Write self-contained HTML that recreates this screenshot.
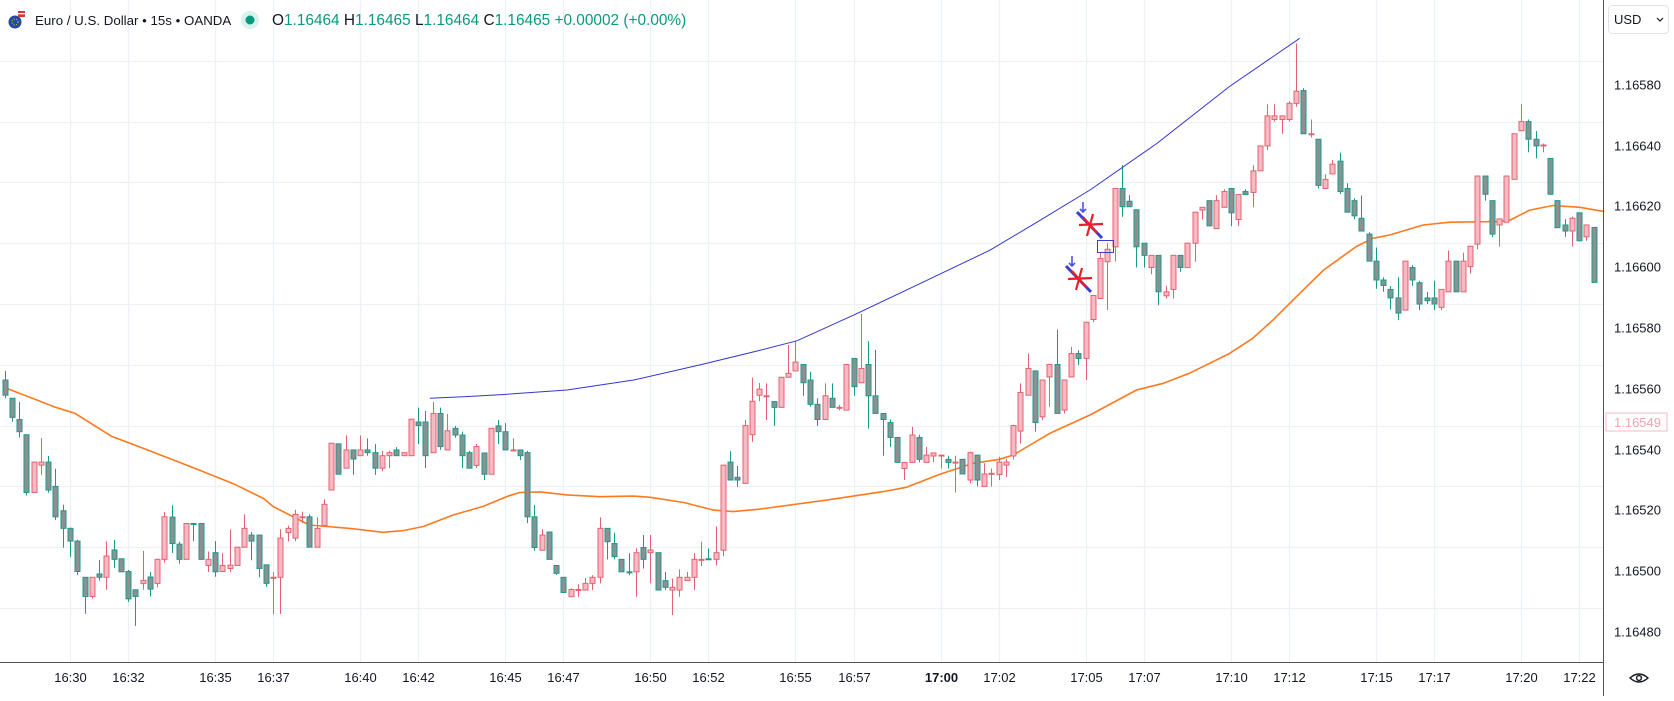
<!DOCTYPE html>
<html><head><meta charset="utf-8">
<style>
html,body{margin:0;padding:0;background:#fff;}
body{width:1674px;height:696px;overflow:hidden;font-family:"Liberation Sans",sans-serif;}
svg text{font-family:"Liberation Sans",sans-serif;}
</style></head>
<body>
<svg id="chart" width="1674" height="696" viewBox="0 0 1674 696" xmlns="http://www.w3.org/2000/svg">
<rect x="0" y="0" width="1674" height="696" fill="#ffffff"/>
<g id="grid"></g>
<g id="ma"></g>
<g id="candles"></g>
<g id="drawings"></g>
<g id="axes"></g>
<g>
  <g>
    <circle cx="15" cy="22" r="6.5" fill="#1f4aa8"/>
    <circle cx="15" cy="22" r="3" fill="none" stroke="#f5c400" stroke-width="1" stroke-dasharray="1 1.5"/>
    <rect x="18" y="11" width="7" height="6" fill="#d33"/>
    <rect x="18" y="13" width="7" height="1.3" fill="#fff"/>
  </g>
  <text x="35" y="25" font-size="13.3" fill="#131722">Euro / U.S. Dollar • 15s • OANDA</text>
  <circle cx="250" cy="20" r="9" fill="#d9f1ec"/>
  <circle cx="250" cy="20" r="4.5" fill="#089981"/>
  <text x="272" y="25" font-size="15.4"><tspan fill="#131722">O</tspan><tspan fill="#089981">1.16464 </tspan><tspan fill="#131722">H</tspan><tspan fill="#089981">1.16465 </tspan><tspan fill="#131722">L</tspan><tspan fill="#089981">1.16464 </tspan><tspan fill="#131722">C</tspan><tspan fill="#089981">1.16465 +0.00002 (+0.00%)</tspan></text>
</g>
<g>
  <rect x="1608.5" y="5.5" width="60" height="28" rx="4" fill="#fff" stroke="#e0e3eb"/>
  <text x="1614" y="24" font-size="13" fill="#131722">USD</text>
  <path d="M1657 18 l3 3 l3 -3" fill="none" stroke="#131722" stroke-width="1.2"/>
</g>
<g>
  <path d="M1630 678 q9 -8 18 0 q-9 8 -18 0z" fill="none" stroke="#131722" stroke-width="1.4"/>
  <circle cx="1639" cy="678" r="2.4" fill="none" stroke="#131722" stroke-width="1.4"/>
</g>
</svg>
<script>
// ---- data (prices expressed as points of 0.00001 above BASE) ----
const BASE = 1.16480;
const opens = [75,69,62,57,38,47,48,40,32,26.2,22,10.1,3.8,11.2,10.1,19.1,16.2,12,6,8.1,10.2,8.1,16,29.9,21,16,27.8,27.8,14,18.2,12,13,14,20,24,24,14.2,10.1,10.1,24.8,23,30,30,20,27.1,38.8,54,46,52,50.1,52,51.1,46,50.1,52,50.1,50.1,61.2,61.2,51.1,64,52,59.1,56.9,51.1,46.9,51,44,59.9,58,52,52,51.1,30,19,25,14,10.1,3.7,6.1,5.9,8.1,10.1,26.2,21.2,16,11.9,11.9,19.9,18.2,18.2,9,5.9,5.9,9,10.1,16,16.2,16,19,48,43,41,57,70,69.8,67.9,66,75.9,78,80.1,75,67,62,69,66,65.1,82.1,74.1,80.1,69.8,64,61,56.1,45.9,47.9,56.1,47.9,50,50.3,48.9,48,48.9,42.1,50.3,40,44.3,43.9,47,50,58.2,70,78,62.9,76,80.1,65.1,76,83.7,82.1,94.9,101.8,113.9,118.8,138,133.8,131,120,112,116,102.7,104.8,116,112,120,130.9,134,124.8,131.8,138,127.8,137,136.7,143.8,152,160.7,160.7,160.7,166,170.2,156,154.2,138,142.8,147,138,134,128.2,123,114.1,107.9,104.8,102,98,112,107,102,102,98.9,104,114.1,104,112.3,119.7,142.1,134,126,126.9,141,157,160,154.2,152.3,147.9,134,126,124,130,122.1,125.2];
const highs = [78,69,67.8,57,48,55.9,50,45.8,34,26.5,22.5,10.1,10.1,15.8,21.9,22.4,16.2,12.5,6,18.8,11.8,16.2,31.6,33.8,21.8,27.8,27.8,27.8,18.6,22,18,25.8,20,30.8,25,24,14.2,11.8,25.9,27.1,32.3,31.7,30.8,29.8,35.8,54.2,54,56.8,52,56.8,55.8,53.9,51.7,51.7,52.9,51.1,62.1,65.9,64.8,67.8,65.9,63.8,59.9,58,51.7,54,51,59.1,61.9,60.8,55.8,52,51.7,33.9,25.9,25,14,10.1,6.5,7.8,9.9,10.8,29.8,26.2,24.8,16,18,19.6,24,24,18.2,11.9,9.7,12.7,11.9,18,21.8,19.6,26.9,47,51.6,46.7,61.9,75.8,74,73.9,67.9,75.9,86.5,87.6,80.1,77.7,69,73.9,73.9,66.8,80.1,82.1,96.7,87.8,84.9,64,62,56.1,47.9,59.6,57,53,51,50.3,50.1,50.1,48.9,51.5,50.3,47.6,45.9,49.7,49,60.3,73.9,83.7,78,75,80.1,91.6,75,85.9,84.8,94,103,117,120,138,145.7,135.8,131,120,116,116,105.9,116,116,120,130.2,131.8,134,135.8,137.8,138,136,137.8,145.7,152,165.7,165.7,161.9,166.7,185.7,171,160.7,154.2,142.7,147.4,149.8,139.7,134.8,135.7,123.6,118.6,108.8,105.9,108.8,114.1,112.8,107.7,104,107.7,104.8,117.6,114.1,116.9,119,142.1,142.1,134,128,142.1,156,165.8,160.7,156.9,152.8,147.9,134,127.9,128.8,130,126,125.2];
const lows = [69,61.3,56.1,37,38,43.8,37.9,28.9,19.8,16.8,10.8,-1.9,3.1,9,6,13.1,11.9,2,-5.9,6,3.8,6.8,14.9,18.1,14.6,16,22,16,11.8,10.3,11.8,11.8,14,20,15.7,10.1,7,-2,-2,21.9,22,27.9,20,20,27,38.8,44,46,43.8,50,50.1,43.8,45,46,50.1,50.1,50.1,54,46,51,52,52,56,46,46,46,42.1,44,54,52,52,48.7,27.9,18.8,19,16,10.9,5.1,3.7,3.7,5.9,5.9,8.1,16,16,11.9,10.8,3.7,13,8.1,5.9,5.9,-2.3,3.7,9,5.9,13.8,16,14,17,42,39.9,41,54.7,68,61.8,59.9,66,75.9,78,69.8,66.2,59.9,62,66,65,65.1,69.8,74,59,64,50.1,53,47.9,42.1,47.9,47.9,47.9,48,45.9,45.9,38,44.1,41,40,40,40,42.1,43.1,48.8,54.1,70,58,61.8,66.2,64,64,76,79.9,75,94,101.8,98,114,128.7,132,112,112,109.8,99.6,101.8,101.8,110.6,112,113.9,127.8,125.7,124.8,131.8,125.6,125.6,136,131.8,143.8,150.6,160,156,160,164.9,156,154.8,138,138,142.8,136.2,130.2,127.9,124,114.1,105,104,98.2,94.7,98,106,98,100,98,98,104,104,104,110,118,134,122,118.9,126.9,141,157,149.9,147.9,149.9,136.1,125.1,122.1,118.9,120.8,120.8,107];
const closes = [70,62.7,58,38,48,48,38.8,30,26.2,22,12,3.8,10.1,10.1,17.1,16,11.9,3,3.8,9.1,6.2,16,30,21.2,16,27.8,27.5,16,16,11.9,14,14.1,20,26.2,22,13,8.1,10.1,23,26.2,30.8,30,20,26.2,34.1,54.2,44,52,49,52,51.1,46,50.1,51.1,50.1,51.1,62.1,60,50.1,64,53.1,58.3,56.9,50.1,46,53.1,44,59.1,58,52,52,50.1,30,19.9,24,16,11.4,5.1,6.1,6.1,8.1,10.1,26.2,21.8,16.9,11.9,11.6,18.2,16,19.1,5.9,6.8,6.8,10.1,10.1,16,16,16,18.2,47,42.1,42.1,60,68,72,69.8,66,75.9,77.2,80.9,74.1,67,62,69.8,66,66,80.1,72.8,78.8,69.8,64,62,56.1,47.9,47.9,56.9,48.9,50.3,51,50.3,47.9,48,44.1,51.1,42.1,44.1,44.3,48,48,60,70.9,78.8,61,75,80.1,64,75,83.7,82.1,94,102.8,115,118,138,132,132,118.8,116,116,104,104,116,112,120,130.2,131.8,125.7,134,137,130,136,136,143.8,152,161.9,161.9,161.9,166,170,156,156,139,141,146,137,130.2,129,124,114.1,107.9,106.1,102,97,114.1,107.9,100,101.1,100,104.8,114.1,104,114.1,119,142.1,136.1,123,128,142.1,156,160,154.2,152,152.3,136.1,125.1,124,128.2,120.8,126,107.1];
// moving average (candle index, points)
const maIndex = [0,3.8,6.8,9.7,14.7,19.8,25.7,31.7,35.7,37,42,47.6,52.2,55,57.7,61.8,65.9,69.5,71,73.8,77.5,82,86.7,89,93.6,97.7,100.4,104,113.3,121.1,124.3,128.9,133.5,137.1,139,144,149.6,156,159.7,163.3,168.8,172,174.8,178.5,181.8,186.3,188.6,190.9,195.5,199.2,205.6,207.5,210.2,213.4,217.1,220.5];
const maValue = [72.5,69,66.2,64,56.5,51.9,46.4,40.7,36,33.4,27.3,26.2,24.9,25.5,26.8,30.6,33.4,36.9,38,38.2,37.2,36.6,36.8,36.4,34.7,32.2,31.7,32.5,35.5,38.3,39.7,44,47.6,48.9,50.3,57.4,63.5,71.7,73.9,77.2,83.7,88.7,94.7,103.5,111.2,118.9,121.6,122.7,126,126.9,127.1,127.6,130.9,132.4,131.8,130.4];
// hand-drawn curve (candle index, points)
const curveIndex = [58.6,63.2,68.5,77.5,86.7,95.9,104,109.2,117.5,126,135.8,142,149.6,158.8,168.8,178.5];
const curveValue = [69,69.5,70.2,71.7,75,80,84.7,87.9,96.9,106.5,117.7,126.5,137.5,152.8,171.5,187.4];
const timeLabels = ["16:30","16:32","16:35","16:37","16:40","16:42","16:45","16:47","16:50","16:52","16:55","16:57","17:00","17:02","17:05","17:07","17:10","17:12","17:15","17:17","17:20","17:22"];
const timeIndex = [9,17,29,37,49,57,69,77,89,97,109,117,129,137,149,157,169,177,189,197,209,217];
const priceLabels = ["1.16580","1.16640","1.16620","1.16600","1.16580","1.16560","1.16540","1.16520","1.16500","1.16480"];
const gridPoints = [180,160,140,120,100,80,60,40,20,0];

// ---- scales ----
const NS = "http://www.w3.org/2000/svg";
function xOf(i){ return 4.7 + i*7.255; }
function yOfPts(p){ return 608 - p*3.04; }
function yOf(price){ return yOfPts((price - BASE)*100000); }
function toPrice(p){ return BASE + p/100000; }
function mk(tag, attrs, parent){ const e=document.createElementNS(NS,tag); for(const k in attrs) e.setAttribute(k,attrs[k]); parent.appendChild(e); return e; }

const grid = document.getElementById('grid');
const axes = document.getElementById('axes');
const PLOT_R = 1603;

gridPoints.forEach((g,k)=>{
  const y = Math.round(yOfPts(g))+0.5;
  const l = mk('line',{x1:0,x2:PLOT_R,y1:y,y2:y,stroke:'#edf0f5','stroke-width':1.3},grid);
  
  
  const t = mk('text',{x:1614,y:y+28,'font-size':13,fill:'#131722'},axes);
  t.textContent = priceLabels[k];
  
  
});
timeIndex.forEach((ti,k)=>{
  const x = Math.round(xOf(ti))+0.5;
  const l = mk('line',{x1:x,x2:x,y1:0,y2:662,stroke:'#edf0f5','stroke-width':1.3},grid);
  
  
  const t = mk('text',{x:x,y:682,'font-size':13,fill:'#131722','text-anchor':'middle','font-weight':timeLabels[k]==="17:00"?'bold':'normal'},axes);
  t.textContent = timeLabels[k];
  
  
});
const ax1 = mk('line',{x1:0,x2:PLOT_R,y1:662.5,y2:662.5,stroke:'#50535e','stroke-width':1},axes);


const ax2 = mk('line',{x1:PLOT_R+0.5,x2:PLOT_R+0.5,y1:0,y2:696,stroke:'#50535e','stroke-width':1},axes);


const tag = mk('rect',{x:1606,y:413,width:61,height:18,fill:'#fff',stroke:'#f7b9c4'},axes);


const tagT = mk('text',{x:1614,y:427,'font-size':13,fill:'#f4a3b1'},axes);
tagT.textContent = "1.16549";



const maG = document.getElementById('ma');
let d = maIndex.map((ix,k)=>(k?'L':'M')+xOf(ix).toFixed(1)+' '+yOf(toPrice(maValue[k])).toFixed(1)).join(' ');
const maPath = mk('path',{d:d,fill:'none',stroke:'#ff7a1f','stroke-width':1.6,'stroke-linejoin':'round'},maG);



const cg = document.getElementById('candles');
for(let i=0;i<opens.length;i++){
  const o=yOf(toPrice(opens[i])), c=yOf(toPrice(closes[i])), h=yOf(toPrice(highs[i])), l=yOf(toPrice(lows[i]));
  const up = closes[i] >= opens[i];
  const x = Math.round(xOf(i));
  const wickC = up ? '#e2636f' : '#1b9a8b';
  const g = mk('g',{},cg);
  
  
  mk('line',{x1:x+0.5,x2:x+0.5,y1:h,y2:l,stroke:wickC,'stroke-width':1},g);
  const top=Math.min(o,c), bh=Math.max(1,Math.abs(o-c));
  mk('rect',{x:x-2,y:top,width:5,height:bh,fill:up?'#f8b8c4':'#8d9092',stroke:wickC,'stroke-width':1},g);
}

const dg = document.getElementById('drawings');
d = curveIndex.map((ix,k)=>(k?'L':'M')+xOf(ix).toFixed(1)+' '+yOf(toPrice(curveValue[k])).toFixed(1)).join(' ');
const cv = mk('path',{d:d,fill:'none',stroke:'#3434d0','stroke-width':1},dg);


function marker(cx,cy,ax,ay){
  const g = mk('g',{},dg);
  
  
  mk('path',{d:`M${ax} ${ay} v10 M${ax-3} ${ay+7} l3 3 l3 -3`,stroke:'#5050e0','stroke-width':1.6,fill:'none'},g);
  mk('line',{x1:cx-13,y1:cy-13,x2:cx+12,y2:cy+13,stroke:'#3a3fd0','stroke-width':3},g);
  mk('line',{x1:cx-11,y1:cy,x2:cx+13,y2:cy-1,stroke:'#e8202a','stroke-width':2.2},g);
  mk('line',{x1:cx+3,y1:cy-11,x2:cx-3,y2:cy+11,stroke:'#e8202a','stroke-width':2.2},g);
  mk('line',{x1:cx-7,y1:cy-8,x2:cx+7,y2:cy+8,stroke:'#e8202a','stroke-width':2.2},g);
}
marker(1090,225,1083,202);
marker(1079,279,1072,256);
const box = mk('rect',{x:1097.5,y:240.5,width:16,height:12,fill:'none',stroke:'#3a3fd0','stroke-width':1},dg);


</script>
</body></html>
